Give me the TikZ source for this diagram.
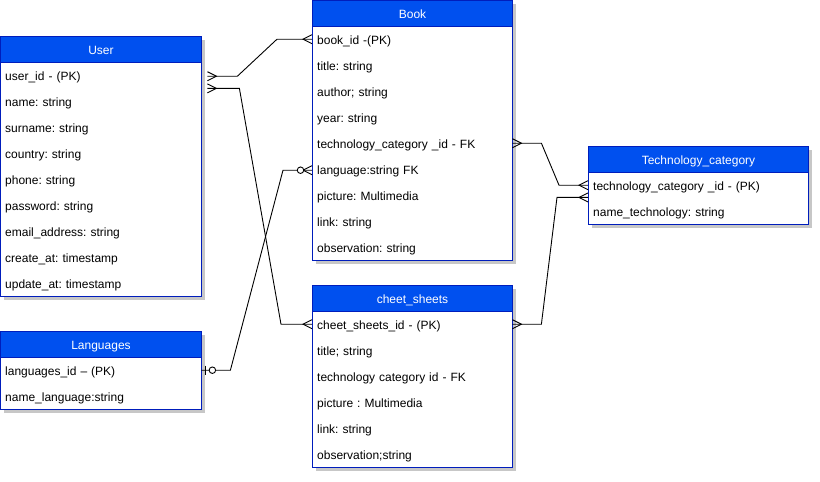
\documentclass[tikz,border=0pt]{standalone}
\usepackage{fontspec}
\setmainfont{Liberation Sans}
\usetikzlibrary{calc,shadows}
\definecolor{hdrfill}{HTML}{0050EF}
\definecolor{hdrline}{HTML}{001DBC}
\frenchspacing
\begin{document}
\begin{tikzpicture}[x=1pt,y=-1pt,
  font=\fontsize{12}{14}\selectfont\frenchspacing,
  tbl/.style={draw=hdrline, fill=white, line width=1pt, anchor=north west, inner sep=0pt,
    drop shadow={shadow xshift=3pt, shadow yshift=-3pt, opacity=0.22, fill=black}},
  hdr/.style={draw=hdrline, fill=hdrfill, text=white, line width=1pt, anchor=north west, inner sep=0pt,
    minimum height=26pt, text height=9.6pt, text depth=0.4pt},
  row/.style={anchor=north west, inner xsep=5pt, inner ysep=0pt, minimum height=26pt, align=left,
    text height=10pt, text depth=0pt},
  link/.style={draw=black, line width=0.9pt},
  crow/.pic={\draw[link] (0,-4.5) -- (-9,0) -- (0,4.5);},
  zcirc/.style={draw=black, line width=0.9pt, fill=white},
]
\useasboundingbox (0,0) rectangle (820,482);

% ---------- User ----------
\node[tbl, minimum width=201pt, minimum height=260pt] (user) at (0,36) {};
\node[hdr, minimum width=201pt] (userh) at (0,36) {User};
\node[row, text width=191pt] (u1) at (0,62)  {user\_id - (PK)};
\node[row, text width=191pt] (u2) at (0,88)  {name: string};
\node[row, text width=191pt] (u3) at (0,114) {surname: string};
\node[row, text width=191pt] (u4) at (0,140) {country: string};
\node[row, text width=191pt] (u5) at (0,166) {phone: string};
\node[row, text width=191pt] (u6) at (0,192) {password: string};
\node[row, text width=191pt] (u7) at (0,218) {email\_address: string};
\node[row, text width=191pt] (u8) at (0,244) {create\_at: timestamp};
\node[row, text width=191pt] (u9) at (0,270) {update\_at: timestamp};

% ---------- Book ----------
\node[tbl, minimum width=200pt, minimum height=260pt] (book) at (312,0) {};
\node[hdr, minimum width=200pt] (bookh) at (312,0) {Book};
\node[row, text width=190pt] (b1) at (312,26)  {book\_id -(PK)};
\node[row, text width=190pt] (b2) at (312,52)  {title: string};
\node[row, text width=190pt] (b3) at (312,78)  {author; string};
\node[row, text width=190pt] (b4) at (312,104) {year: string};
\node[row, text width=190pt] (b5) at (312,130) {technology\_category \_id - FK};
\node[row, text width=190pt] (b6) at (312,156) {language:string FK};
\node[row, text width=190pt] (b7) at (312,182) {picture: Multimedia};
\node[row, text width=190pt] (b8) at (312,208) {link: string};
\node[row, text width=190pt] (b9) at (312,234) {observation: string};

% ---------- Technology_category ----------
\node[tbl, minimum width=220pt, minimum height=78pt] (tech) at (588,146) {};
\node[hdr, minimum width=220pt] (techh) at (588,146) {Technology\_category};
\node[row, text width=210pt] (t1) at (588,172) {technology\_category \_id - (PK)};
\node[row, text width=210pt] (t2) at (588,198) {name\_technology: string};

% ---------- Languages ----------
\node[tbl, minimum width=201pt, minimum height=78pt] (lang) at (0,331) {};
\node[hdr, minimum width=201pt] (langh) at (0,331) {Languages};
\node[row, text width=191pt] (l1) at (0,357) {languages\_id – (PK)};
\node[row, text width=191pt] (l2) at (0,383) {name\_language:string};

% ---------- cheet_sheets ----------
\node[tbl, minimum width=200pt, minimum height=182pt] (cheet) at (312,285) {};
\node[hdr, minimum width=200pt] (cheeth) at (312,285) {cheet\_sheets};
\node[row, text width=190pt] (c1) at (312,311) {cheet\_sheets\_id - (PK)};
\node[row, text width=190pt] (c2) at (312,337) {title; string};
\node[row, text width=190pt] (c3) at (312,363) {technology category id - FK};
\node[row, text width=190pt] (c4) at (312,389) {picture : Multimedia};
\node[row, text width=190pt] (c5) at (312,415) {link: string};
\node[row, text width=190pt] (c6) at (312,441) {observation;string};

% ---------- connectors ----------
% User -> Book
\coordinate (a1) at ($(u1.east)+(6,1)$);
\draw[link] (a1) -- ++(30,0) -- ($(b1.west)+(-35,0)$) -- (b1.west);
\pic[xscale=-1] at (a1) {crow};
\pic at (b1.west) {crow};

% User -> cheet_sheets
\coordinate (a2) at ($(u1.south east)+(6,0)$);
\draw[link] (a2) -- ++(32,0) -- ($(c1.west)+(-31,0)$) -- (c1.west);
\pic[xscale=-1] at (a2) {crow};
\pic at (c1.west) {crow};

% Languages -> Book (language)
\coordinate (a3) at ($(b6.west)+(0,1)$);
\draw[link] (l1.east) -- ++(29,0) -- ($(a3)+(-29,0)$) -- (a3);
\draw[link] ($(l1.east)+(4,-4.5)$) -- ($(l1.east)+(4,4.5)$);
\node[zcirc, circle, inner sep=0pt, minimum size=6.5pt] (z1) at ($(l1.east)+(11,0)$) {};
\pic at (a3) {crow};
\node[zcirc, circle, inner sep=0pt, minimum size=6.5pt] (z2) at ($(a3)+(-11.5,0)$) {};

% Book -> Technology_category
\draw[link] (b5.east) -- ++(29,0) -- ($(t1.west)+(-29,0)$) -- (t1.west);
\pic[xscale=-1] at (b5.east) {crow};
\pic at (t1.west) {crow};

% cheet_sheets -> Technology_category
\coordinate (a5) at ($(t1.south west)+(0,-1)$);
\draw[link] (c1.east) -- ++(29,0) -- ($(a5)+(-31,0)$) -- (a5);
\pic[xscale=-1] at (c1.east) {crow};
\pic at (a5) {crow};
\end{tikzpicture}
\end{document}
